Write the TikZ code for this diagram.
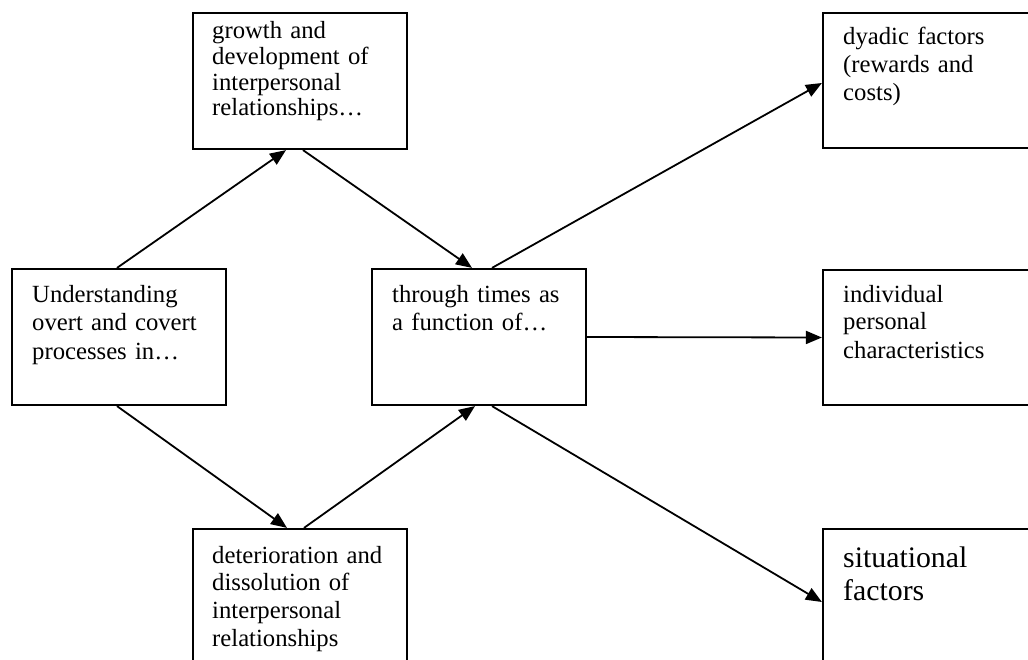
\documentclass[tikz,border=0pt]{standalone}
\usepackage{fontspec}
\setmainfont{Liberation Serif}
\usetikzlibrary{arrows.meta}
\begin{document}
\begin{tikzpicture}[x=1pt,y=-1pt,
  box/.style={draw=black,line width=2.2pt,inner sep=0pt,minimum width=214pt,minimum height=136pt},
  rbox/.style={draw=black,line width=2.2pt,inner sep=0pt,minimum width=212pt},
  txt/.style={anchor=base west,inner sep=0pt,text width=200pt,align=left,font=\fontsize{24.7pt}{28pt}\selectfont},
  arr/.style={line width=1.8pt,-{Triangle[length=16pt,width=13pt]}}]
\clip (0,0) rectangle (1028,660);
\fill[white] (0,0) rectangle (1028,660);
% boxes
\node[box] (A) at (119,337) {};
\node[box] (B) at (300,81) {};
\node[box] (C) at (479,337) {};
\node[box,minimum height=141pt] (D) at (300,599.5) {};
\node[rbox,minimum height=135pt] (E) at (929,80.5) {};
\node[rbox,minimum height=135pt] (F) at (929,337.5) {};
\node[rbox,minimum height=141pt] (G) at (929,599.5) {};
% texts
\node[txt] (At) at (32,303) {Understanding\\overt and covert\\processes in…};
\node[txt,font=\fontsize{24.7pt}{25.6pt}\selectfont] (Bt) at (212,39) {growth and\\development of\\interpersonal\\relationships…};
\node[txt] (Ct) at (392,303) {through times as\\a function of…};
\node[txt,font=\fontsize{24.7pt}{27.7pt}\selectfont] (Dt) at (212,563) {deterioration and\\dissolution of\\interpersonal\\relationships};
\node[txt] (Et) at (843,45) {dyadic factors\\(rewards and\\costs)};
\node[txt] (Ft) at (843,302) {individual\\personal\\characteristics};
\node[txt,font=\fontsize{29.8pt}{33pt}\selectfont] (Gt) at (843,567) {situational\\factors};
% connectors
\draw[arr] ([xshift=-2pt]A.north) -- ([xshift=-14pt]B.south);
\draw[arr] ([xshift=3pt]B.south) -- ([xshift=-7pt]C.north);
\draw[arr] ([xshift=-2pt]A.south) -- ([xshift=-13pt]D.north);
\draw[arr] ([xshift=4pt]D.north) -- ([xshift=-4pt]C.south);
\draw[arr] ([xshift=13pt]C.north) -- ([yshift=-2.5pt]E.west);
\draw[arr] (C.east) -- (F.west);
\draw[arr] ([xshift=13pt]C.south) -- ([yshift=-2.5pt]G.west);
\end{tikzpicture}
\end{document}
